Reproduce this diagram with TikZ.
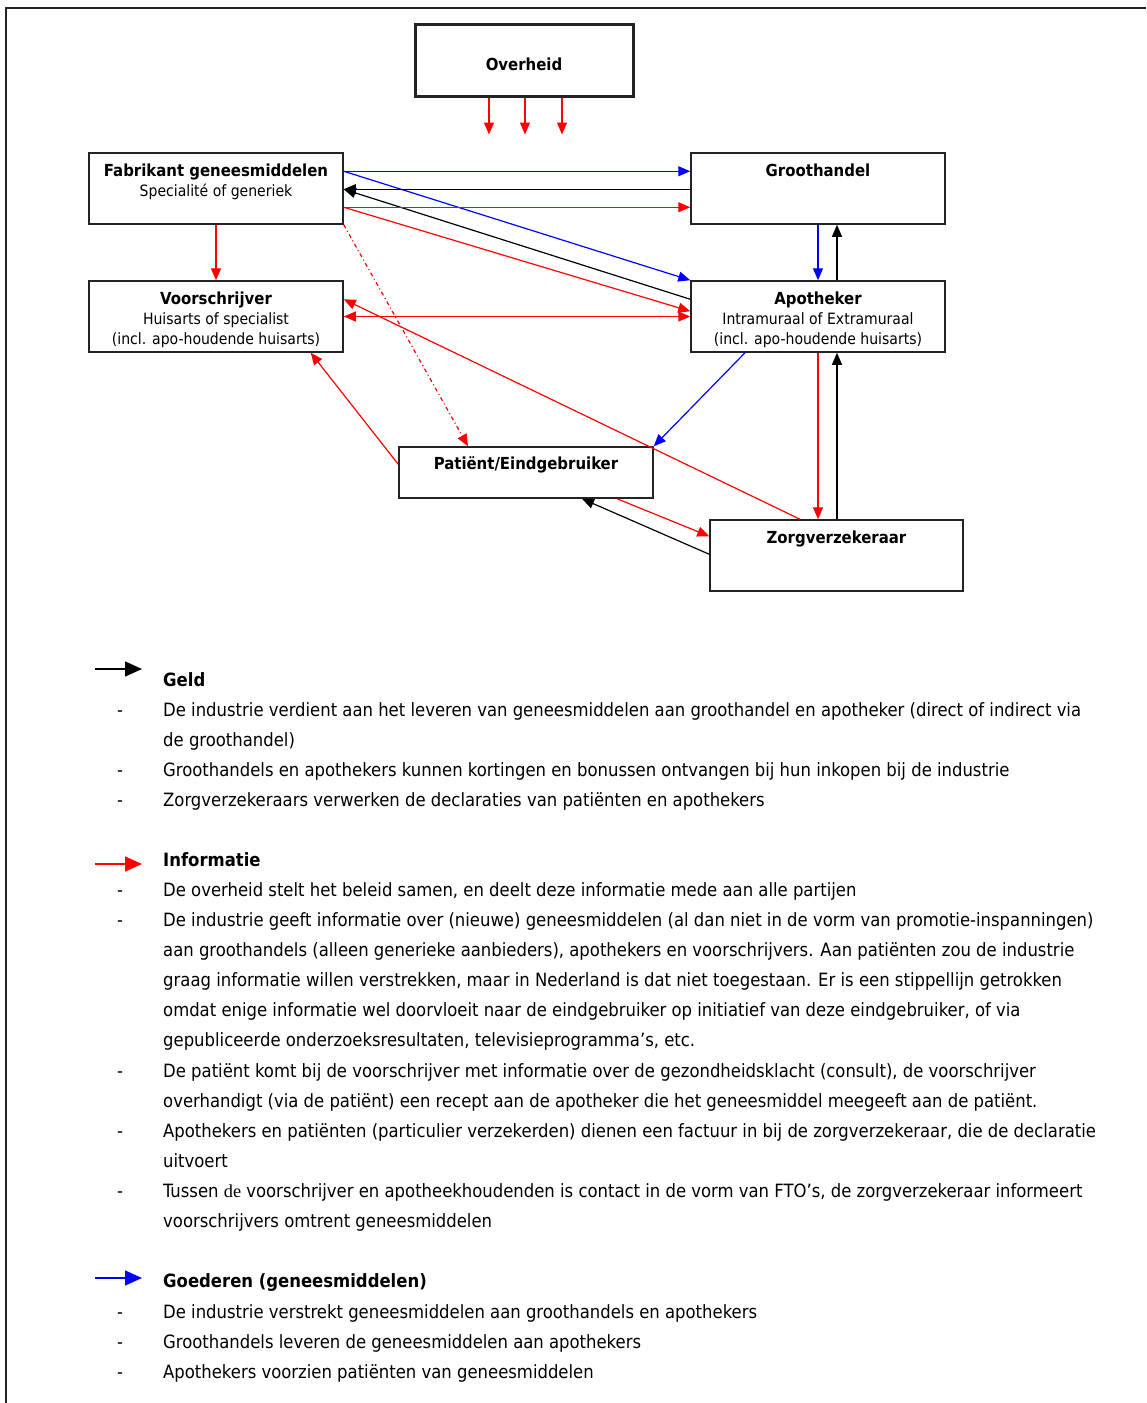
\documentclass[tikz,border=0pt]{standalone}
\usepackage{fontspec}
\setmainfont{DejaVu Sans Condensed}
\newfontfamily\serifde{Liberation Serif}
\usetikzlibrary{arrows.meta,positioning}

\definecolor{randkleur}{RGB}{35,35,35}
\definecolor{infokleur}{RGB}{255,0,0}
\definecolor{goedkleur}{RGB}{0,0,255}

\tikzset{
  partij/.style={draw=randkleur, line width=1.5pt, minimum width=254pt,
    minimum height=71pt, inner sep=0pt},
  etiket/.style={font=\fontsize{15.6}{20}\selectfont, align=center, inner sep=0pt},
  geld/.style={draw=black, line width=1.2pt, -{Triangle[length=12pt,width=10pt]}},
  info/.style={draw=infokleur, line width=1.2pt, -{Triangle[length=12pt,width=10pt]}},
  goed/.style={draw=goedkleur, line width=1.2pt, -{Triangle[length=12pt,width=10pt]}},
  legpijl/.style={line width=1.5pt, -{Triangle[length=17pt,width=15pt]}},
  tekst/.style={font=\fontsize{18.3}{30}\selectfont, inner sep=0pt, anchor=base west},
  kop/.style={tekst, font=\fontsize{18.3}{30}\selectfont\bfseries},
}
\newcommand{\titel}[1]{{\fontsize{16.6}{20}\selectfont\bfseries #1}}

\begin{document}
\begin{tikzpicture}[x=1pt,y=-1pt]
  \useasboundingbox (0,0) rectangle (1146,1403);
  \draw[randkleur, line width=2pt] (6,1403) -- (6,8) -- (1146,8);

  % partijen
  \node[partij, line width=3pt, minimum width=218pt, minimum height=72pt] (over) at (524,60) {};
  \node[partij] (fab) at (216,188.5) {};
  \node[partij] (groot) at (818,188.5) {};
  \node[partij] (voor) at (216,316.5) {};
  \node[partij] (apo) at (818,316.5) {};
  \node[partij, minimum height=51pt] (pat) at (526,472.5) {};
  \node[partij, minimum width=253pt] (zorg) at (836.5,555.5) {};

  \node[etiket] (overtxt) at ([yshift=-4pt]over.center) {\titel{Overheid}};
  \node[etiket, below=11pt of fab.north] (fabtxt) {\titel{Fabrikant geneesmiddelen}\\Specialité of generiek};
  \node[etiket, below=11pt of groot.north] (groottxt) {\titel{Groothandel}};
  \node[etiket, below=11pt of voor.north] (voortxt) {\titel{Voorschrijver}\\Huisarts of specialist\\(incl. apo-houdende huisarts)};
  \node[etiket, below=11pt of apo.north] (apotxt) {\titel{Apotheker}\\Intramuraal of Extramuraal\\(incl. apo-houdende huisarts)};
  \node[etiket, below=10pt of pat.north] (pattxt) {\titel{Patiënt/Eindgebruiker}};
  \node[etiket, below=11pt of zorg.north] (zorgtxt) {\titel{Zorgverzekeraar}};

  % overheid informeert iedereen
  \foreach \dx [count=\i] in {-35,1,38} {
    \coordinate (pol\i) at ([xshift=\dx pt, yshift=-37pt]over.south);
    \draw[info] ([xshift=\dx pt]over.south) -- (pol\i);
  }

  % goederen
  \draw[goed] ([yshift=-19pt]fab.north east) -- ([yshift=-19pt]groot.north west);
  \draw[goed] ([yshift=-19pt]fab.north east) -- (apo.north west);
  \draw[goed] (groot.south) -- (apo.north);
  \draw[goed] ([xshift=-73pt]apo.south) -- (pat.north east);

  % geld
  \draw[geld] ([yshift=-37pt]groot.north west) -- ([yshift=-37pt]fab.north east);
  \draw[geld] ([yshift=-19pt]apo.north west) -- ([yshift=-37pt]fab.north east);
  \draw[geld] ([xshift=19pt]apo.north) -- ([xshift=19pt]groot.south);
  \draw[geld] ([xshift=0.5pt]zorg.north) -- ([xshift=19pt]apo.south);
  \draw[geld] ([yshift=-35pt]zorg.north west) -- ([xshift=56pt]pat.south);

  % informatie
  \draw[info] ([yshift=-55pt]fab.north east) -- ([yshift=-55pt]groot.north west);
  \draw[info] ([yshift=-55pt]fab.north east) -- ([yshift=-31pt]apo.north west);
  \draw[info] (fab.south) -- (voor.north);
  \draw[info, {Triangle[length=12pt,width=10pt]}-{Triangle[length=12pt,width=10pt]}] (voor.east) -- (apo.west);
  \draw[info, dash pattern=on 4pt off 3pt on 1pt off 3pt] (fab.south east) -- ([xshift=-58pt]pat.north);
  \draw[info] ([xshift=-36.5pt]zorg.north) -- ([yshift=-19pt]voor.north east);
  \draw[info] ([yshift=-18pt]pat.north west) -- ([xshift=-33pt]voor.south east);
  \draw[info] (apo.south) -- ([xshift=-18.5pt]zorg.north);
  \draw[info] ([xshift=91pt]pat.south) -- ([yshift=-17pt]zorg.north west);

  % legenda
  \coordinate (geldA) at (95,669);
  \coordinate (geldB) at (142,669);
  \coordinate (infoA) at (95,864);
  \coordinate (infoB) at (142,864);
  \coordinate (goedA) at (95,1278);
  \coordinate (goedB) at (142,1278);
  \draw[legpijl, black] (geldA) -- (geldB);
  \draw[legpijl, infokleur] (infoA) -- (infoB);
  \draw[legpijl, goedkleur] (goedA) -- (goedB);

  \node[kop] (geldkop) at (163,686) {Geld};
  \node[kop] (infokop) at (163,866) {Informatie};
  \node[kop] (goedkop) at (163,1287) {Goederen (geneesmiddelen)};

  \foreach \y [count=\i] in {716,776,806,896,926,1077,1137,1197,1318,1348,1378}
    \node[tekst, anchor=base] (streep\i) at (120,\y) {-};

  \foreach \y/\t [count=\i] in {
      716/{De industrie verdient aan het leveren van geneesmiddelen aan groothandel en apotheker (direct of indirect via},
      746/{de groothandel)},
      776/{Groothandels en apothekers kunnen kortingen en bonussen ontvangen bij hun inkopen bij de industrie},
      806/{Zorgverzekeraars verwerken de declaraties van patiënten en apothekers}}
    \node[tekst] (geld\i) at (163,\y) {\t};

  \foreach \y/\t [count=\i] in {
      896/{De overheid stelt het beleid samen, en deelt deze informatie mede aan alle partijen},
      926/{De industrie geeft informatie over (nieuwe) geneesmiddelen (al dan niet in de vorm van promotie-inspanningen)},
      956/{aan groothandels (alleen generieke aanbieders), apothekers en voorschrijvers. Aan patiënten zou de industrie},
      986/{graag informatie willen verstrekken, maar in Nederland is dat niet toegestaan. Er is een stippellijn getrokken},
      1016/{omdat enige informatie wel doorvloeit naar de eindgebruiker op initiatief van deze eindgebruiker, of via},
      1046/{gepubliceerde onderzoeksresultaten, televisieprogramma’s, etc.},
      1077/{De patiënt komt bij de voorschrijver met informatie over de gezondheidsklacht (consult), de voorschrijver},
      1107/{overhandigt (via de patiënt) een recept aan de apotheker die het geneesmiddel meegeeft aan de patiënt.},
      1137/{Apothekers en patiënten (particulier verzekerden) dienen een factuur in bij de zorgverzekeraar, die de declaratie},
      1167/{uitvoert},
      1197/{Tussen {\serifde de} voorschrijver en apotheekhoudenden is contact in de vorm van FTO’s, de zorgverzekeraar informeert},
      1227/{voorschrijvers omtrent geneesmiddelen}}
    \node[tekst] (info\i) at (163,\y) {\t};

  \foreach \y/\t [count=\i] in {
      1318/{De industrie verstrekt geneesmiddelen aan groothandels en apothekers},
      1348/{Groothandels leveren de geneesmiddelen aan apothekers},
      1378/{Apothekers voorzien patiënten van geneesmiddelen}}
    \node[tekst] (goed\i) at (163,\y) {\t};
\end{tikzpicture}
\end{document}
